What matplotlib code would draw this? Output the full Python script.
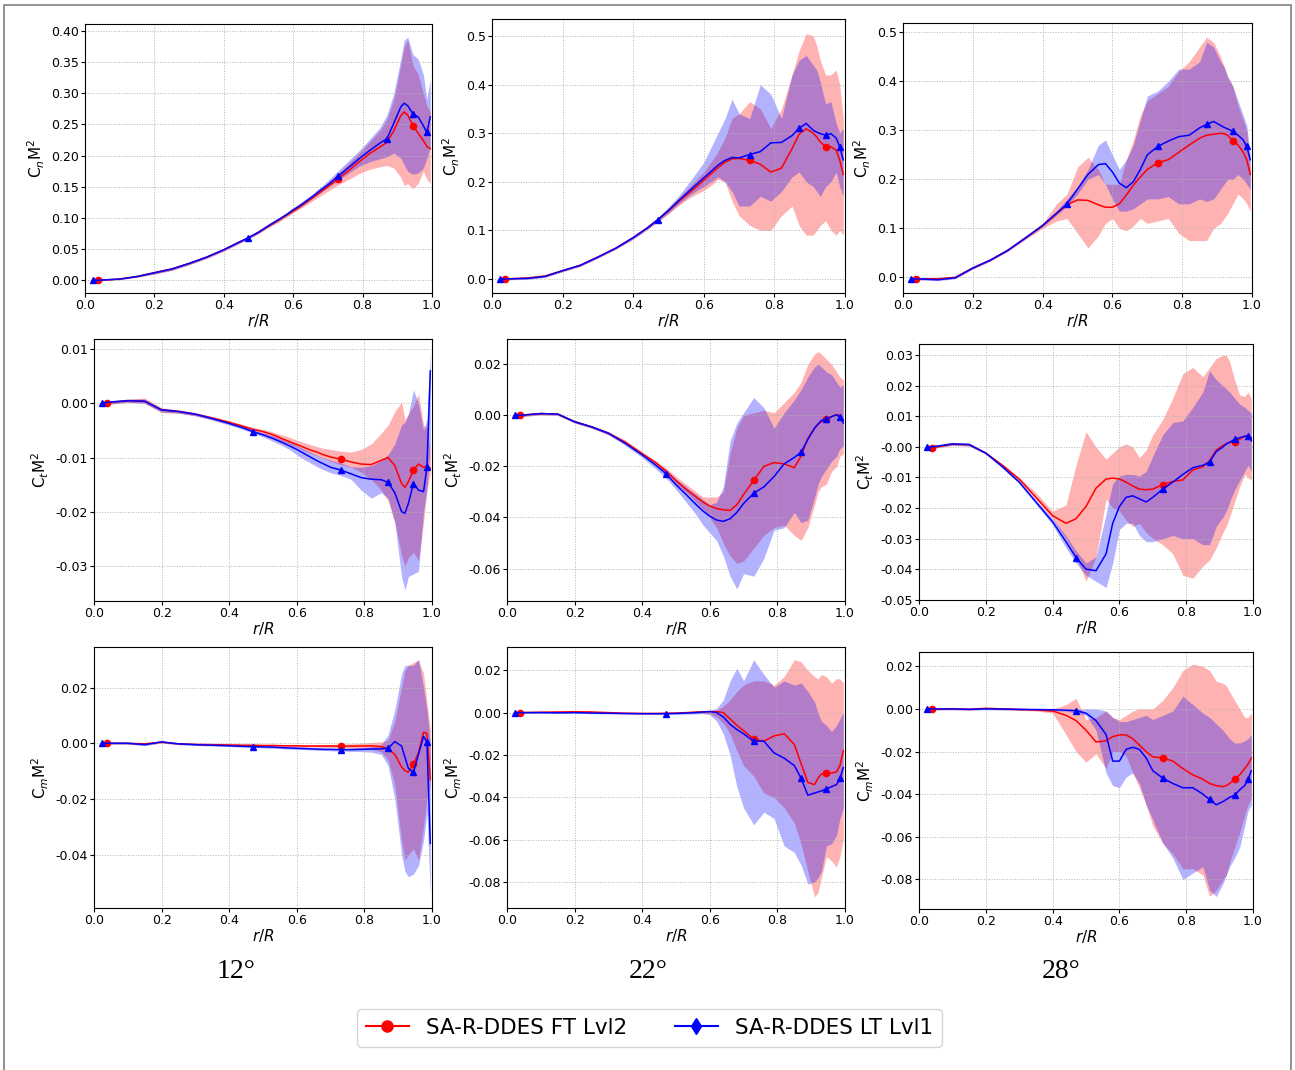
# Radial loading (Cn, Ct, Cm times M^2) at three pitch angles, two DDES runs
import numpy as np
import matplotlib
matplotlib.use('Agg')
import matplotlib.pyplot as plt
from matplotlib.lines import Line2D
from matplotlib.patches import Rectangle
from matplotlib.ticker import MultipleLocator, FormatStrFormatter

# radial stations shared by every curve
r_over_R = [0.024, 0.038, 0.1, 0.15, 0.2, 0.25, 0.3, 0.35, 0.4, 0.44, 0.47, 0.5,
            0.53, 0.56, 0.58, 0.6, 0.62, 0.64, 0.66, 0.68, 0.7, 0.73, 0.76, 0.79,
            0.82, 0.85, 0.87, 0.89, 0.91, 0.92, 0.93, 0.945, 0.96, 0.975, 0.985, 0.995]

# stations where the markers sit
ft_mark_r = [0.038, 0.73, 0.945]
lt_mark_r = [0.024, 0.47, 0.73, 0.87, 0.945, 0.985]

# ---- Cn M^2, 12 deg
cn12_ft = [0.000, 0.000, 0.002, 0.006, 0.012, 0.018, 0.027, 0.037, 0.049, 0.060, 0.068, 0.077, 0.087, 0.097, 0.104, 0.111, 0.118, 0.126, 0.134, 0.142, 0.150, 0.163, 0.176, 0.190, 0.203, 0.214, 0.221, 0.240, 0.264, 0.270, 0.265, 0.248, 0.236, 0.224, 0.215, 0.211]
cn12_ft_lo = [-0.001, -0.001, 0.001, 0.005, 0.010, 0.016, 0.025, 0.035, 0.047, 0.058, 0.066, 0.075, 0.085, 0.094, 0.101, 0.108, 0.115, 0.122, 0.129, 0.136, 0.143, 0.153, 0.162, 0.171, 0.178, 0.182, 0.184, 0.180, 0.165, 0.152, 0.155, 0.147, 0.155, 0.175, 0.162, 0.155]
cn12_ft_hi = [0.001, 0.001, 0.003, 0.008, 0.015, 0.021, 0.029, 0.039, 0.051, 0.062, 0.070, 0.079, 0.089, 0.099, 0.107, 0.115, 0.122, 0.130, 0.139, 0.148, 0.157, 0.172, 0.188, 0.204, 0.222, 0.240, 0.258, 0.290, 0.345, 0.375, 0.385, 0.345, 0.330, 0.300, 0.280, 0.270]
cn12_lt = [0.000, 0.000, 0.002, 0.006, 0.012, 0.018, 0.027, 0.037, 0.049, 0.060, 0.068, 0.077, 0.088, 0.098, 0.105, 0.113, 0.120, 0.128, 0.136, 0.145, 0.153, 0.167, 0.181, 0.195, 0.208, 0.220, 0.227, 0.252, 0.278, 0.284, 0.280, 0.267, 0.262, 0.248, 0.237, 0.262]
cn12_lt_lo = [-0.001, -0.001, 0.001, 0.005, 0.010, 0.016, 0.025, 0.035, 0.047, 0.058, 0.066, 0.075, 0.086, 0.096, 0.103, 0.110, 0.117, 0.125, 0.133, 0.141, 0.149, 0.161, 0.172, 0.183, 0.190, 0.195, 0.198, 0.204, 0.196, 0.185, 0.175, 0.170, 0.172, 0.180, 0.195, 0.215]
cn12_lt_hi = [0.001, 0.001, 0.003, 0.007, 0.014, 0.020, 0.029, 0.039, 0.051, 0.062, 0.070, 0.080, 0.091, 0.101, 0.108, 0.116, 0.124, 0.132, 0.141, 0.150, 0.160, 0.176, 0.192, 0.208, 0.226, 0.245, 0.265, 0.300, 0.355, 0.385, 0.390, 0.362, 0.355, 0.330, 0.290, 0.322]

# ---- Cn M^2, 22 deg
cn22_ft = [0.000, 0.000, 0.002, 0.006, 0.017, 0.028, 0.045, 0.063, 0.085, 0.105, 0.122, 0.140, 0.160, 0.178, 0.190, 0.203, 0.216, 0.229, 0.240, 0.247, 0.248, 0.244, 0.236, 0.220, 0.228, 0.268, 0.298, 0.309, 0.300, 0.292, 0.282, 0.272, 0.272, 0.265, 0.245, 0.215]
cn22_ft_lo = [-0.002, -0.002, 0.000, 0.004, 0.015, 0.026, 0.043, 0.061, 0.082, 0.102, 0.118, 0.134, 0.152, 0.167, 0.175, 0.182, 0.192, 0.205, 0.200, 0.160, 0.130, 0.110, 0.100, 0.100, 0.130, 0.150, 0.110, 0.090, 0.090, 0.100, 0.110, 0.120, 0.100, 0.090, 0.100, 0.090]
cn22_ft_hi = [0.002, 0.002, 0.004, 0.008, 0.019, 0.030, 0.047, 0.065, 0.088, 0.108, 0.126, 0.146, 0.168, 0.190, 0.205, 0.220, 0.240, 0.262, 0.290, 0.330, 0.340, 0.365, 0.350, 0.310, 0.350, 0.420, 0.470, 0.505, 0.500, 0.480, 0.450, 0.420, 0.420, 0.430, 0.400, 0.330]
cn22_lt = [0.000, 0.000, 0.001, 0.005, 0.017, 0.028, 0.045, 0.063, 0.085, 0.105, 0.122, 0.141, 0.162, 0.182, 0.195, 0.208, 0.221, 0.234, 0.244, 0.250, 0.249, 0.256, 0.262, 0.280, 0.281, 0.295, 0.310, 0.320, 0.306, 0.302, 0.299, 0.296, 0.299, 0.290, 0.272, 0.245]
cn22_lt_lo = [-0.002, -0.002, -0.001, 0.003, 0.015, 0.026, 0.043, 0.061, 0.082, 0.102, 0.118, 0.136, 0.155, 0.172, 0.182, 0.190, 0.200, 0.210, 0.200, 0.180, 0.150, 0.150, 0.170, 0.160, 0.180, 0.210, 0.220, 0.200, 0.190, 0.180, 0.170, 0.190, 0.200, 0.220, 0.190, 0.170]
cn22_lt_hi = [0.002, 0.002, 0.003, 0.007, 0.019, 0.030, 0.047, 0.065, 0.088, 0.108, 0.127, 0.148, 0.172, 0.200, 0.220, 0.240, 0.270, 0.300, 0.330, 0.370, 0.340, 0.330, 0.400, 0.380, 0.330, 0.420, 0.450, 0.460, 0.440, 0.430, 0.405, 0.360, 0.365, 0.320, 0.300, 0.310]

# ---- Cn M^2, 28 deg
cn28_ft = [-0.003, -0.003, -0.003, 0.000, 0.019, 0.035, 0.055, 0.080, 0.105, 0.130, 0.148, 0.158, 0.157, 0.148, 0.143, 0.143, 0.150, 0.168, 0.188, 0.205, 0.220, 0.234, 0.240, 0.255, 0.270, 0.284, 0.290, 0.292, 0.294, 0.293, 0.290, 0.278, 0.270, 0.255, 0.240, 0.210]
cn28_ft_lo = [-0.005, -0.005, -0.005, -0.002, 0.017, 0.033, 0.053, 0.077, 0.100, 0.115, 0.120, 0.090, 0.060, 0.085, 0.110, 0.120, 0.100, 0.095, 0.105, 0.120, 0.110, 0.115, 0.120, 0.090, 0.075, 0.075, 0.075, 0.100, 0.110, 0.120, 0.130, 0.150, 0.170, 0.160, 0.150, 0.135]
cn28_ft_hi = [-0.001, -0.001, -0.001, 0.002, 0.021, 0.037, 0.057, 0.083, 0.110, 0.150, 0.170, 0.225, 0.245, 0.220, 0.190, 0.190, 0.190, 0.240, 0.280, 0.330, 0.360, 0.375, 0.390, 0.420, 0.440, 0.470, 0.490, 0.480, 0.450, 0.430, 0.410, 0.390, 0.350, 0.320, 0.300, 0.220]
cn28_lt = [-0.003, -0.003, -0.005, -0.001, 0.019, 0.035, 0.055, 0.080, 0.106, 0.131, 0.150, 0.180, 0.210, 0.230, 0.232, 0.215, 0.192, 0.183, 0.195, 0.220, 0.250, 0.267, 0.278, 0.287, 0.290, 0.305, 0.312, 0.318, 0.310, 0.306, 0.303, 0.298, 0.290, 0.280, 0.267, 0.240]
cn28_lt_lo = [-0.005, -0.005, -0.007, -0.003, 0.017, 0.033, 0.053, 0.078, 0.103, 0.127, 0.145, 0.170, 0.200, 0.210, 0.190, 0.160, 0.135, 0.135, 0.140, 0.150, 0.160, 0.160, 0.165, 0.150, 0.150, 0.160, 0.155, 0.160, 0.180, 0.190, 0.200, 0.200, 0.210, 0.200, 0.190, 0.180]
cn28_lt_hi = [-0.001, -0.001, -0.003, 0.001, 0.021, 0.037, 0.057, 0.082, 0.108, 0.135, 0.160, 0.185, 0.220, 0.270, 0.280, 0.250, 0.220, 0.240, 0.270, 0.320, 0.370, 0.380, 0.400, 0.425, 0.425, 0.440, 0.480, 0.470, 0.440, 0.430, 0.410, 0.390, 0.360, 0.330, 0.310, 0.250]

# ---- Ct M^2, 12 deg
ct12_ft = [0.0000, 0.0001, 0.0005, 0.0004, -0.0012, -0.0015, -0.0020, -0.0027, -0.0035, -0.0042, -0.0048, -0.0052, -0.0058, -0.0066, -0.0071, -0.0076, -0.0081, -0.0086, -0.0090, -0.0095, -0.0099, -0.0103, -0.0108, -0.0112, -0.0113, -0.0105, -0.0100, -0.0115, -0.0148, -0.0155, -0.0145, -0.0123, -0.0112, -0.0118, -0.0115, -0.0120]
ct12_ft_lo = [-0.0003, -0.0002, 0.0002, 0.0000, -0.0017, -0.0018, -0.0023, -0.0030, -0.0038, -0.0045, -0.0051, -0.0056, -0.0063, -0.0071, -0.0076, -0.0081, -0.0087, -0.0092, -0.0097, -0.0102, -0.0107, -0.0113, -0.0118, -0.0127, -0.0140, -0.0160, -0.0180, -0.0220, -0.0280, -0.0300, -0.0285, -0.0275, -0.0290, -0.0220, -0.0160, -0.0130]
ct12_ft_hi = [0.0003, 0.0004, 0.0008, 0.0010, -0.0008, -0.0012, -0.0017, -0.0024, -0.0032, -0.0039, -0.0044, -0.0048, -0.0053, -0.0059, -0.0063, -0.0068, -0.0072, -0.0076, -0.0080, -0.0083, -0.0085, -0.0088, -0.0090, -0.0085, -0.0075, -0.0055, -0.0040, -0.0015, 0.0003, -0.0030, -0.0020, -0.0005, 0.0017, -0.0040, -0.0045, -0.0090]
ct12_lt = [0.0000, 0.0002, 0.0005, 0.0004, -0.0012, -0.0015, -0.0020, -0.0028, -0.0037, -0.0045, -0.0052, -0.0058, -0.0065, -0.0073, -0.0079, -0.0085, -0.0092, -0.0099, -0.0106, -0.0112, -0.0118, -0.0123, -0.0130, -0.0137, -0.0140, -0.0141, -0.0146, -0.0165, -0.0200, -0.0203, -0.0185, -0.0148, -0.0160, -0.0163, -0.0118, 0.0060]
ct12_lt_lo = [-0.0003, -0.0002, 0.0002, 0.0000, -0.0016, -0.0018, -0.0023, -0.0031, -0.0040, -0.0048, -0.0055, -0.0062, -0.0070, -0.0079, -0.0086, -0.0095, -0.0103, -0.0110, -0.0117, -0.0123, -0.0128, -0.0133, -0.0140, -0.0160, -0.0175, -0.0165, -0.0175, -0.0220, -0.0320, -0.0345, -0.0320, -0.0315, -0.0310, -0.0200, -0.0160, -0.0080]
ct12_lt_hi = [0.0003, 0.0005, 0.0008, 0.0008, -0.0009, -0.0012, -0.0017, -0.0025, -0.0034, -0.0042, -0.0049, -0.0054, -0.0060, -0.0067, -0.0072, -0.0078, -0.0084, -0.0090, -0.0096, -0.0101, -0.0105, -0.0110, -0.0117, -0.0118, -0.0115, -0.0105, -0.0095, -0.0075, -0.0040, -0.0035, -0.0020, 0.0025, 0.0000, -0.0050, -0.0030, 0.0098]

# ---- Ct M^2, 22 deg
ct22_ft = [0.0000, 0.0000, 0.0007, 0.0005, -0.0025, -0.0045, -0.0070, -0.0105, -0.0150, -0.0185, -0.0218, -0.0255, -0.0290, -0.0320, -0.0340, -0.0355, -0.0365, -0.0370, -0.0372, -0.0350, -0.0310, -0.0255, -0.0200, -0.0185, -0.0190, -0.0205, -0.0160, -0.0090, -0.0050, -0.0035, -0.0025, -0.0015, -0.0005, 0.0003, 0.0000, -0.0020]
ct22_ft_lo = [-0.0005, -0.0005, 0.0002, 0.0000, -0.0030, -0.0050, -0.0076, -0.0112, -0.0157, -0.0195, -0.0230, -0.0270, -0.0300, -0.0340, -0.0370, -0.0400, -0.0440, -0.0500, -0.0550, -0.0580, -0.0570, -0.0520, -0.0470, -0.0440, -0.0430, -0.0470, -0.0490, -0.0440, -0.0350, -0.0300, -0.0280, -0.0270, -0.0220, -0.0200, -0.0160, -0.0150]
ct22_ft_hi = [0.0005, 0.0005, 0.0012, 0.0010, -0.0020, -0.0040, -0.0064, -0.0098, -0.0143, -0.0178, -0.0205, -0.0240, -0.0270, -0.0300, -0.0320, -0.0320, -0.0320, -0.0300, -0.0150, -0.0050, 0.0000, 0.0010, 0.0020, 0.0010, 0.0050, 0.0090, 0.0130, 0.0200, 0.0240, 0.0250, 0.0240, 0.0220, 0.0200, 0.0170, 0.0150, 0.0140]
ct22_lt = [0.0000, 0.0000, 0.0007, 0.0005, -0.0025, -0.0045, -0.0070, -0.0110, -0.0155, -0.0195, -0.0228, -0.0272, -0.0310, -0.0350, -0.0375, -0.0395, -0.0410, -0.0415, -0.0405, -0.0380, -0.0345, -0.0305, -0.0280, -0.0240, -0.0190, -0.0165, -0.0145, -0.0095, -0.0050, -0.0035, -0.0020, -0.0015, -0.0005, 0.0002, -0.0008, -0.0030]
ct22_lt_lo = [-0.0005, -0.0005, 0.0002, 0.0000, -0.0030, -0.0050, -0.0076, -0.0118, -0.0165, -0.0210, -0.0245, -0.0290, -0.0340, -0.0390, -0.0430, -0.0460, -0.0490, -0.0550, -0.0630, -0.0680, -0.0620, -0.0630, -0.0560, -0.0450, -0.0440, -0.0380, -0.0420, -0.0410, -0.0320, -0.0270, -0.0240, -0.0210, -0.0180, -0.0160, -0.0130, -0.0120]
ct22_lt_hi = [0.0005, 0.0005, 0.0012, 0.0010, -0.0020, -0.0040, -0.0064, -0.0102, -0.0148, -0.0185, -0.0210, -0.0250, -0.0280, -0.0310, -0.0330, -0.0350, -0.0340, -0.0280, -0.0100, -0.0030, 0.0010, 0.0070, 0.0030, -0.0050, 0.0010, 0.0060, 0.0100, 0.0150, 0.0190, 0.0200, 0.0190, 0.0170, 0.0160, 0.0130, 0.0110, 0.0120]

# ---- Ct M^2, 28 deg
ct28_ft = [-0.0003, -0.0003, 0.0009, 0.0007, -0.0020, -0.0060, -0.0105, -0.0165, -0.0225, -0.0250, -0.0235, -0.0195, -0.0135, -0.0105, -0.0102, -0.0105, -0.0115, -0.0128, -0.0138, -0.0140, -0.0138, -0.0123, -0.0113, -0.0108, -0.0075, -0.0065, -0.0045, -0.0010, 0.0005, 0.0010, 0.0015, 0.0017, 0.0025, 0.0035, 0.0035, 0.0030]
ct28_ft_lo = [-0.0006, -0.0006, 0.0006, 0.0004, -0.0023, -0.0064, -0.0110, -0.0170, -0.0235, -0.0300, -0.0360, -0.0440, -0.0360, -0.0170, -0.0200, -0.0210, -0.0240, -0.0260, -0.0250, -0.0280, -0.0300, -0.0320, -0.0350, -0.0420, -0.0430, -0.0390, -0.0370, -0.0330, -0.0280, -0.0260, -0.0230, -0.0180, -0.0130, -0.0090, -0.0100, -0.0110]
ct28_ft_hi = [0.0000, 0.0000, 0.0012, 0.0010, -0.0017, -0.0056, -0.0100, -0.0150, -0.0210, -0.0190, -0.0060, 0.0050, 0.0000, -0.0040, -0.0020, 0.0000, 0.0010, 0.0000, -0.0035, -0.0010, 0.0040, 0.0090, 0.0160, 0.0240, 0.0260, 0.0230, 0.0260, 0.0290, 0.0300, 0.0300, 0.0280, 0.0220, 0.0170, 0.0165, 0.0180, 0.0160]
ct28_lt = [0.0000, 0.0000, 0.0010, 0.0008, -0.0020, -0.0065, -0.0115, -0.0180, -0.0245, -0.0310, -0.0362, -0.0400, -0.0405, -0.0350, -0.0250, -0.0195, -0.0165, -0.0160, -0.0170, -0.0180, -0.0165, -0.0138, -0.0115, -0.0090, -0.0068, -0.0060, -0.0050, -0.0015, 0.0000, 0.0010, 0.0015, 0.0025, 0.0030, 0.0035, 0.0035, 0.0020]
ct28_lt_lo = [-0.0005, -0.0005, 0.0005, 0.0003, -0.0024, -0.0070, -0.0120, -0.0187, -0.0255, -0.0330, -0.0380, -0.0420, -0.0440, -0.0460, -0.0380, -0.0270, -0.0250, -0.0250, -0.0290, -0.0310, -0.0310, -0.0300, -0.0290, -0.0300, -0.0300, -0.0320, -0.0320, -0.0260, -0.0230, -0.0210, -0.0180, -0.0140, -0.0110, -0.0080, -0.0060, -0.0080]
ct28_lt_hi = [0.0005, 0.0005, 0.0015, 0.0013, -0.0016, -0.0060, -0.0110, -0.0173, -0.0235, -0.0290, -0.0340, -0.0380, -0.0360, -0.0220, -0.0120, -0.0095, -0.0090, -0.0090, -0.0095, -0.0080, -0.0030, 0.0040, 0.0080, 0.0085, 0.0130, 0.0180, 0.0250, 0.0220, 0.0200, 0.0190, 0.0180, 0.0160, 0.0140, 0.0130, 0.0120, 0.0110]

# ---- Cm M^2, 12 deg
cm12_ft = [0.0000, 0.0000, 0.0000, -0.0002, 0.0004, -0.0002, -0.0004, -0.0005, -0.0006, -0.0007, -0.0007, -0.0008, -0.0008, -0.0009, -0.0009, -0.0009, -0.0010, -0.0010, -0.0010, -0.0010, -0.0010, -0.0010, -0.0010, -0.0010, -0.0009, -0.0012, -0.0020, -0.0040, -0.0085, -0.0098, -0.0104, -0.0075, -0.0035, 0.0040, 0.0035, -0.0130]
cm12_ft_lo = [-0.0003, -0.0003, -0.0003, -0.0006, 0.0001, -0.0005, -0.0007, -0.0008, -0.0009, -0.0010, -0.0011, -0.0012, -0.0012, -0.0013, -0.0013, -0.0013, -0.0014, -0.0014, -0.0014, -0.0015, -0.0015, -0.0016, -0.0018, -0.0020, -0.0022, -0.0030, -0.0060, -0.0150, -0.0350, -0.0420, -0.0400, -0.0380, -0.0420, -0.0300, -0.0200, -0.0150]
cm12_ft_hi = [0.0003, 0.0003, 0.0003, 0.0002, 0.0007, 0.0001, -0.0001, -0.0002, -0.0003, -0.0003, -0.0003, -0.0004, -0.0004, -0.0004, -0.0004, -0.0004, -0.0005, -0.0005, -0.0005, -0.0004, -0.0004, -0.0003, -0.0002, 0.0000, 0.0003, 0.0005, 0.0010, 0.0080, 0.0200, 0.0260, 0.0280, 0.0290, 0.0300, 0.0250, 0.0150, 0.0050]
cm12_lt = [0.0000, 0.0000, 0.0000, -0.0005, 0.0005, -0.0002, -0.0005, -0.0007, -0.0009, -0.0011, -0.0012, -0.0013, -0.0014, -0.0016, -0.0017, -0.0018, -0.0019, -0.0020, -0.0021, -0.0022, -0.0022, -0.0023, -0.0023, -0.0022, -0.0021, -0.0020, -0.0018, 0.0006, -0.0010, -0.0050, -0.0090, -0.0105, -0.0040, 0.0025, 0.0005, -0.0360]
cm12_lt_lo = [-0.0003, -0.0003, -0.0003, -0.0009, 0.0001, -0.0005, -0.0008, -0.0010, -0.0012, -0.0014, -0.0016, -0.0017, -0.0018, -0.0020, -0.0021, -0.0022, -0.0023, -0.0024, -0.0025, -0.0026, -0.0027, -0.0028, -0.0029, -0.0030, -0.0032, -0.0040, -0.0080, -0.0200, -0.0400, -0.0460, -0.0480, -0.0470, -0.0440, -0.0350, -0.0250, -0.0550]
cm12_lt_hi = [0.0003, 0.0003, 0.0003, -0.0001, 0.0009, 0.0001, -0.0002, -0.0004, -0.0006, -0.0008, -0.0009, -0.0009, -0.0010, -0.0011, -0.0012, -0.0013, -0.0014, -0.0015, -0.0016, -0.0017, -0.0017, -0.0018, -0.0018, -0.0016, -0.0012, -0.0005, 0.0030, 0.0120, 0.0250, 0.0280, 0.0280, 0.0280, 0.0300, 0.0200, 0.0120, 0.0000]

# ---- Cm M^2, 22 deg
cm22_ft = [0.0000, 0.0000, 0.0002, 0.0003, 0.0004, 0.0003, 0.0000, -0.0003, -0.0004, -0.0004, -0.0003, -0.0002, 0.0000, 0.0003, 0.0004, 0.0005, 0.0005, 0.0000, -0.0030, -0.0060, -0.0085, -0.0125, -0.0135, -0.0110, -0.0100, -0.0150, -0.0240, -0.0330, -0.0340, -0.0310, -0.0290, -0.0285, -0.0285, -0.0280, -0.0250, -0.0180]
cm22_ft_lo = [-0.0003, -0.0003, -0.0001, 0.0000, 0.0001, 0.0000, -0.0003, -0.0006, -0.0007, -0.0007, -0.0006, -0.0005, -0.0004, -0.0003, -0.0004, -0.0005, -0.0020, -0.0050, -0.0100, -0.0180, -0.0250, -0.0300, -0.0380, -0.0400, -0.0450, -0.0520, -0.0620, -0.0750, -0.0870, -0.0850, -0.0780, -0.0680, -0.0700, -0.0730, -0.0680, -0.0600]
cm22_ft_hi = [0.0003, 0.0003, 0.0005, 0.0006, 0.0007, 0.0006, 0.0003, 0.0000, -0.0001, -0.0001, 0.0000, 0.0001, 0.0003, 0.0006, 0.0008, 0.0010, 0.0010, 0.0030, 0.0060, 0.0100, 0.0130, 0.0150, 0.0150, 0.0130, 0.0170, 0.0250, 0.0240, 0.0200, 0.0170, 0.0160, 0.0180, 0.0170, 0.0140, 0.0160, 0.0160, 0.0140]
cm22_lt = [0.0000, 0.0000, 0.0000, -0.0001, 0.0000, -0.0002, -0.0003, -0.0004, -0.0005, -0.0005, -0.0005, -0.0004, -0.0002, 0.0000, 0.0003, 0.0005, 0.0000, -0.0020, -0.0055, -0.0080, -0.0100, -0.0135, -0.0135, -0.0190, -0.0215, -0.0250, -0.0310, -0.0390, -0.0380, -0.0375, -0.0370, -0.0360, -0.0350, -0.0340, -0.0310, -0.0260]
cm22_lt_lo = [-0.0003, -0.0003, -0.0003, -0.0004, -0.0003, -0.0005, -0.0006, -0.0007, -0.0008, -0.0008, -0.0008, -0.0008, -0.0007, -0.0006, -0.0005, -0.0010, -0.0040, -0.0100, -0.0200, -0.0350, -0.0450, -0.0530, -0.0470, -0.0500, -0.0630, -0.0660, -0.0720, -0.0810, -0.0800, -0.0780, -0.0750, -0.0630, -0.0620, -0.0580, -0.0500, -0.0450]
cm22_lt_hi = [0.0003, 0.0003, 0.0003, 0.0002, 0.0003, 0.0001, 0.0000, -0.0001, -0.0002, -0.0002, -0.0002, -0.0001, 0.0002, 0.0005, 0.0008, 0.0010, 0.0020, 0.0060, 0.0150, 0.0210, 0.0150, 0.0250, 0.0180, 0.0120, 0.0150, 0.0130, 0.0140, 0.0100, 0.0050, 0.0000, -0.0040, -0.0060, -0.0090, -0.0060, -0.0030, 0.0000]

# ---- Cm M^2, 28 deg
cm28_ft = [0.0000, 0.0000, 0.0000, -0.0002, 0.0003, 0.0000, -0.0003, -0.0005, -0.0010, -0.0030, -0.0055, -0.0100, -0.0155, -0.0150, -0.0130, -0.0122, -0.0122, -0.0140, -0.0170, -0.0200, -0.0225, -0.0230, -0.0245, -0.0280, -0.0310, -0.0330, -0.0350, -0.0360, -0.0365, -0.0360, -0.0350, -0.0330, -0.0310, -0.0280, -0.0260, -0.0230]
cm28_ft_lo = [-0.0005, -0.0005, -0.0004, -0.0006, -0.0001, -0.0004, -0.0007, -0.0010, -0.0020, -0.0120, -0.0200, -0.0250, -0.0210, -0.0280, -0.0200, -0.0200, -0.0220, -0.0300, -0.0370, -0.0450, -0.0550, -0.0630, -0.0680, -0.0750, -0.0750, -0.0780, -0.0880, -0.0850, -0.0800, -0.0780, -0.0720, -0.0650, -0.0580, -0.0500, -0.0450, -0.0420]
cm28_ft_hi = [0.0005, 0.0005, 0.0004, 0.0003, 0.0007, 0.0004, 0.0002, 0.0001, 0.0000, 0.0020, 0.0050, -0.0050, -0.0040, -0.0010, -0.0040, -0.0050, -0.0030, -0.0010, 0.0000, 0.0000, 0.0000, 0.0040, 0.0100, 0.0180, 0.0210, 0.0200, 0.0180, 0.0130, 0.0120, 0.0110, 0.0080, 0.0040, 0.0000, -0.0040, -0.0040, -0.0020]
cm28_lt = [0.0000, 0.0000, 0.0000, -0.0002, 0.0000, -0.0001, -0.0002, -0.0003, -0.0004, -0.0006, -0.0008, -0.0020, -0.0055, -0.0120, -0.0245, -0.0245, -0.0190, -0.0180, -0.0190, -0.0230, -0.0290, -0.0325, -0.0350, -0.0370, -0.0370, -0.0400, -0.0425, -0.0450, -0.0435, -0.0425, -0.0415, -0.0405, -0.0380, -0.0360, -0.0330, -0.0290]
cm28_lt_lo = [-0.0005, -0.0005, -0.0004, -0.0006, -0.0004, -0.0005, -0.0006, -0.0007, -0.0010, -0.0010, -0.0020, -0.0030, -0.0100, -0.0300, -0.0360, -0.0370, -0.0320, -0.0300, -0.0350, -0.0450, -0.0520, -0.0630, -0.0700, -0.0800, -0.0770, -0.0740, -0.0850, -0.0880, -0.0820, -0.0780, -0.0740, -0.0700, -0.0650, -0.0550, -0.0480, -0.0450]
cm28_lt_hi = [0.0005, 0.0005, 0.0004, 0.0002, 0.0004, 0.0003, 0.0002, 0.0001, -0.0003, -0.0003, -0.0003, 0.0000, 0.0000, -0.0010, -0.0040, -0.0060, -0.0060, -0.0050, -0.0040, -0.0030, -0.0050, -0.0030, -0.0010, 0.0060, 0.0020, -0.0020, -0.0040, -0.0070, -0.0100, -0.0120, -0.0140, -0.0160, -0.0160, -0.0150, -0.0140, -0.0120]

angle_labels = ['12°', '22°', '28°']
series_labels = ['SA-R-DDES FT Lvl2', 'SA-R-DDES LT Lvl1']
ylabels = [r'C$_n$M$^2$', r'C$_t$M$^2$', r'C$_m$M$^2$']

W, H = 1295, 1070


def px_box(x0, y0, x1, y1):
    """pixel box (left, top, right, bottom) -> figure fraction rect"""
    return [x0 / W, 1 - y1 / H, (x1 - x0) / W, (y1 - y0) / H]


def draw_panel(ax, ft, ft_lo, ft_hi, lt, lt_lo, lt_hi, ylim, ystep, yfmt, ylabel):
    r = np.array(r_over_R)
    ax.fill_between(r, ft_lo, ft_hi, color='red', alpha=0.3, lw=0)
    ax.fill_between(r, lt_lo, lt_hi, color='blue', alpha=0.3, lw=0)
    ft_idx = [r_over_R.index(v) for v in ft_mark_r]
    lt_idx = [r_over_R.index(v) for v in lt_mark_r]
    ax.plot(r, ft, color='red', lw=1.1, marker='o', ms=4.5, markevery=ft_idx)
    ax.plot(r, lt, color='blue', lw=1.1, marker='^', ms=5, markevery=lt_idx)
    ax.set_xlim(0, 1)
    ax.set_ylim(*ylim)
    ax.xaxis.set_major_locator(MultipleLocator(0.2))
    ax.yaxis.set_major_locator(MultipleLocator(ystep))
    ax.yaxis.set_major_formatter(FormatStrFormatter(yfmt))
    ax.grid(True, ls=':', color='0.7', lw=0.7)
    ax.tick_params(labelsize=9, length=3, pad=1.5)
    ax.set_xlabel(r'$r/R$', fontsize=11, labelpad=0)
    ax.set_ylabel(ylabel, fontsize=11, labelpad=3)


fig = plt.figure(figsize=(W / 100, H / 100), dpi=100)

panels = [
    (cn12_ft, cn12_ft_lo, cn12_ft_hi, cn12_lt, cn12_lt_lo, cn12_lt_hi),
    (cn22_ft, cn22_ft_lo, cn22_ft_hi, cn22_lt, cn22_lt_lo, cn22_lt_hi),
    (cn28_ft, cn28_ft_lo, cn28_ft_hi, cn28_lt, cn28_lt_lo, cn28_lt_hi),
    (ct12_ft, ct12_ft_lo, ct12_ft_hi, ct12_lt, ct12_lt_lo, ct12_lt_hi),
    (ct22_ft, ct22_ft_lo, ct22_ft_hi, ct22_lt, ct22_lt_lo, ct22_lt_hi),
    (ct28_ft, ct28_ft_lo, ct28_ft_hi, ct28_lt, ct28_lt_lo, ct28_lt_hi),
    (cm12_ft, cm12_ft_lo, cm12_ft_hi, cm12_lt, cm12_lt_lo, cm12_lt_hi),
    (cm22_ft, cm22_ft_lo, cm22_ft_hi, cm22_lt, cm22_lt_lo, cm22_lt_hi),
    (cm28_ft, cm28_ft_lo, cm28_ft_hi, cm28_lt, cm28_lt_lo, cm28_lt_hi),
]
# axes boxes in pixels, measured off the composite figure
boxes = [(85, 24, 432, 293), (492, 19, 845, 293), (903, 23, 1252, 293),
         (94, 339, 432, 601), (507, 339, 845, 601), (919, 344, 1253, 600),
         (94, 647, 432, 908), (507, 647, 845, 908), (919, 652, 1253, 909)]
ylims = [(-0.0204, 0.411), (-0.029, 0.535), (-0.032, 0.519),
         (-0.0365, 0.0119), (-0.0727, 0.0299), (-0.0501, 0.0337),
         (-0.0592, 0.0346), (-0.0923, 0.031), (-0.0939, 0.0267)]
ysteps = [0.05, 0.1, 0.1, 0.01, 0.02, 0.01, 0.02, 0.02, 0.02]
yfmts = ['%.2f', '%.1f', '%.1f'] + ['%.2f'] * 6

for i, data in enumerate(panels):
    ax = fig.add_axes(px_box(*boxes[i]))
    draw_panel(ax, *data, ylims[i], ysteps[i], yfmts[i], ylabels[i // 3])

# pitch angle captions under each column
for x, lab in zip([236, 648, 1061], angle_labels):
    fig.text(x / W, 1 - 971 / H, lab, ha='center', va='center',
             fontsize=20, family='Liberation Serif')

handles = [Line2D([], [], color='red', marker='o', lw=1.5, ms=8),
           Line2D([], [], color='blue', marker='d', lw=1.5, ms=8)]
fig.legend(handles, series_labels, loc='center', ncol=2,
           bbox_to_anchor=(649.5 / W, 1 - 1028 / H), fontsize=15.5,
           edgecolor='0.8', handlelength=2.0, columnspacing=2.2)

# thin gray frame around the composite
fig.add_artist(Rectangle((4 / W, -0.02), 1287 / W, 1.02 - 5 / H,
                         transform=fig.transFigure, fill=False,
                         edgecolor='0.5', lw=1.2))

fig.savefig('out.png', dpi=100)
